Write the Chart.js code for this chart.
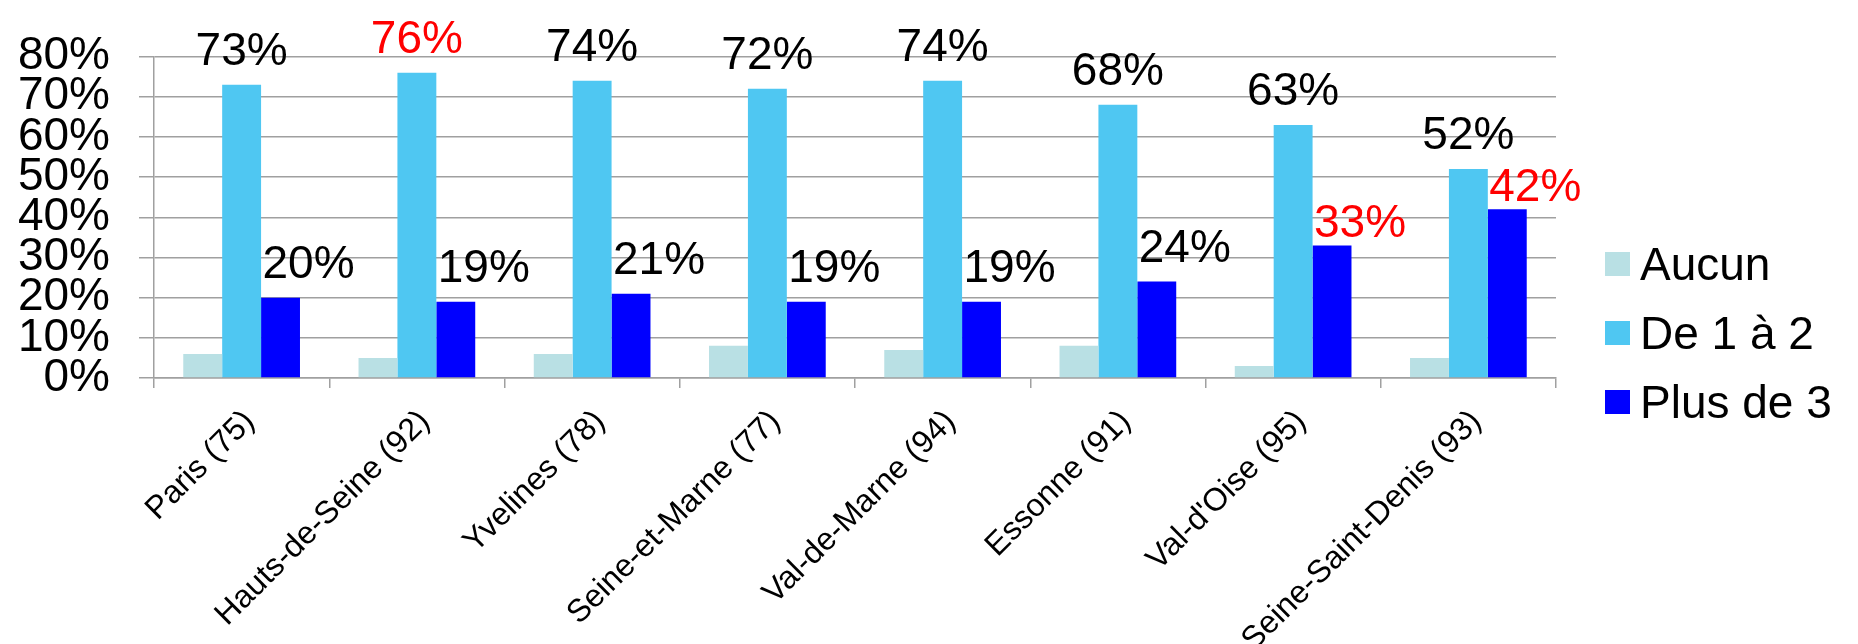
<!DOCTYPE html>
<html lang="fr">
<head>
<meta charset="utf-8">
<title>Répartition par département</title>
<script src="https://cdn.jsdelivr.net/npm/chart.js@4.4.1/dist/chart.umd.min.js"></script>
<style>
    html, body { margin: 0; padding: 0; background: #ffffff; }
    #chart { display: block; }
</style>
</head>
<body>
<canvas id="chart" width="1858" height="644"></canvas>
<script>
// Data
const departements = [
    'Paris (75)', 'Hauts-de-Seine (92)', 'Yvelines (78)', 'Seine-et-Marne (77)',
    'Val-de-Marne (94)', 'Essonne (91)', "Val-d'Oise (95)", 'Seine-Saint-Denis (93)'
];
const aucun = [6, 5, 6, 8, 7, 8, 3, 5];
const deUnADeux = [73, 76, 74, 72, 74, 68, 63, 52];
const plusDeTrois = [20, 19, 21, 19, 19, 24, 33, 42];
const yTickValues = [0, 10, 20, 30, 40, 50, 60, 70, 80];

// which value labels are shown in red (index into the series)
const rougeDeUnADeux = [1];
const rougePlusDeTrois = [6, 7];

const FONT = '"Liberation Sans", Arial, sans-serif';
const GRID = '#a0a0a0';

Chart.defaults.font.family = FONT;
Chart.defaults.color = '#000000';

// Percent labels above the "De 1 à 2" and "Plus de 3" bars
const valueLabels = {
    id: 'valueLabels',
    afterDatasetsDraw(chart) {
        const ctx = chart.ctx;
        ctx.save();
        ctx.font = '46px ' + FONT;
        ctx.textAlign = 'center';
        ctx.textBaseline = 'alphabetic';
        [
            { index: 1, red: rougeDeUnADeux, dx: 0 },
            { index: 2, red: rougePlusDeTrois, dx: 28 }
        ].forEach(cfg => {
            const values = chart.data.datasets[cfg.index].data;
            chart.getDatasetMeta(cfg.index).data.forEach((bar, i) => {
                const isRed = cfg.red.includes(i);
                const gap = (cfg.index === 2 && isRed) ? 8 : 20;
                ctx.fillStyle = isRed ? '#ff0000' : '#000000';
                ctx.fillText(values[i] + '%', bar.x + cfg.dx, bar.y - gap);
            });
        });
        ctx.restore();
    }
};

// Legend on the right, drawn from the datasets
const sideLegend = {
    id: 'sideLegend',
    afterDraw(chart) {
        const ctx = chart.ctx;
        const x = chart.chartArea.right + 49;
        const firstY = 264;
        const step = 69;
        ctx.save();
        ctx.font = '46px ' + FONT;
        ctx.textAlign = 'left';
        ctx.textBaseline = 'alphabetic';
        chart.data.datasets.forEach((ds, i) => {
            const cy = firstY + i * step;
            ctx.fillStyle = ds.backgroundColor;
            ctx.fillRect(x, cy - 12, 25, 24);
            ctx.fillStyle = '#000000';
            ctx.fillText(ds.label, x + 35, cy + 16);
        });
        ctx.restore();
    }
};

const ctx = document.getElementById('chart').getContext('2d');
new Chart(ctx, {
    type: 'bar',
    data: {
        labels: departements,
        datasets: [
            { label: 'Aucun', data: aucun, backgroundColor: '#b9e0e4' },
            { label: 'De 1 à 2', data: deUnADeux, backgroundColor: '#4fc7f2' },
            { label: 'Plus de 3', data: plusDeTrois, backgroundColor: '#0000ff' }
        ]
    },
    options: {
        responsive: false,
        animation: false,
        devicePixelRatio: 1,
        layout: { padding: { left: 18, right: 302, top: 38, bottom: 0 } },
        datasets: {
            bar: { categoryPercentage: 0.666, barPercentage: 1.0, borderWidth: 0 }
        },
        plugins: {
            legend: { display: false },
            tooltip: { enabled: false }
        },
        scales: {
            x: {
                grid: { offset: true, drawOnChartArea: false, drawTicks: true, tickLength: 10, color: GRID, lineWidth: 1.5 },
                border: { display: true, color: GRID, width: 1.5 },
                ticks: {
                    autoSkip: false,
                    minRotation: 45,
                    maxRotation: 45,
                    padding: 15,
                    labelOffset: 8,
                    color: '#000000',
                    font: { size: 32 }
                },
                afterFit(scale) { scale.height = 266; }
            },
            y: {
                min: 0,
                max: 80,
                afterBuildTicks(scale) {
                    scale.ticks = yTickValues.map(v => ({ value: v }));
                },
                grid: { color: GRID, lineWidth: 1.5, tickLength: 15 },
                border: { display: true, color: GRID, width: 1.5 },
                ticks: {
                    autoSkip: false,
                    padding: 29,
                    color: '#000000',
                    font: { size: 46 },
                    callback: v => v + '%'
                },
                afterFit(scale) { scale.width = 136; }
            }
        }
    },
    plugins: [valueLabels, sideLegend]
});
</script>
</body>
</html>
